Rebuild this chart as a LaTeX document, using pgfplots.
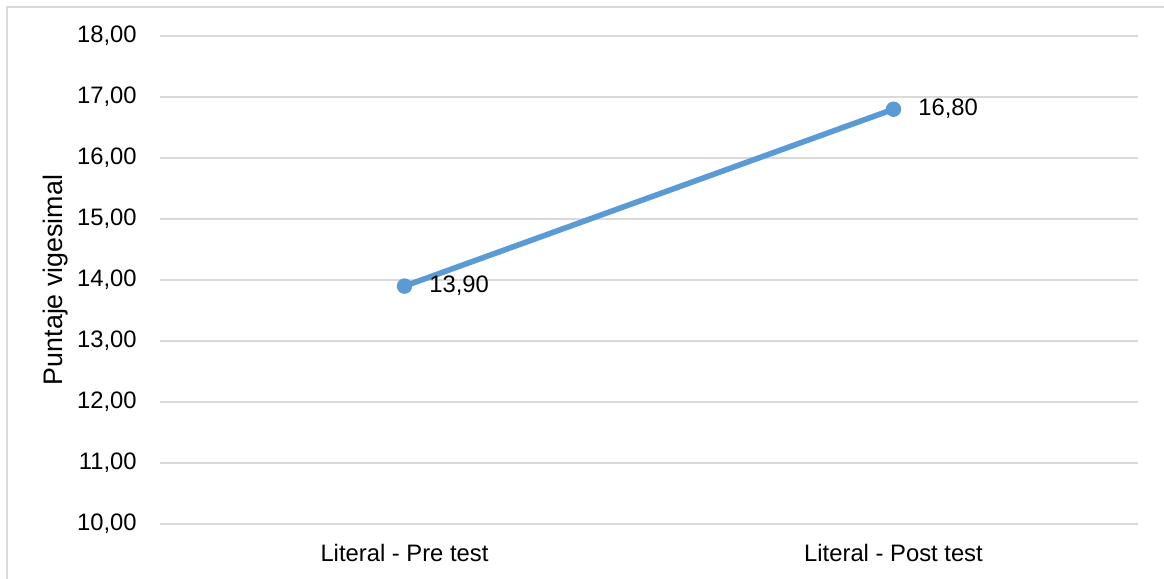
\documentclass[border=0pt]{standalone}
\usepackage{pgfplots}
\pgfplotsset{compat=1.18}
\usepackage{fontspec}
\setmainfont{Liberation Sans}
\definecolor{lineblue}{HTML}{5B9BD5}
\definecolor{gridgray}{HTML}{D9D9D9}
\begin{document}
\begin{tikzpicture}
\useasboundingbox (0,0) rectangle (582pt,289.5pt);
\draw[gridgray, line width=0.75pt] (3.5pt,0) -- (3.5pt,286pt) -- (582pt,286pt);
\begin{axis}[
  at={(80pt,27.5pt)}, anchor=south west,
  scale only axis, width=489pt, height=244pt,
  xmin=-0.5, xmax=1.5, ymin=10, ymax=18,
  xtick={0,1}, xticklabels={Literal - Pre test, Literal - Post test},
  ytick={10,11,...,18},
  axis line style={draw=none},
  major tick length=0pt,
  ymajorgrids, grid style={gridgray, line width=0.75pt},
  /pgf/number format/.cd, fixed, fixed zerofill, precision=2, use comma, assume math mode=true,
  /pgfplots/.cd,
  tick label style={font=\fontsize{11.9}{14}\selectfont},
  yticklabel style={anchor=east, inner sep=0pt, xshift=-11.5pt},
  xticklabel style={anchor=base, inner sep=0pt, yshift=-18.75pt},
  ylabel={Puntaje vigesimal},
  ylabel style={at={(axis description cs:-0.0992,0.5)}, anchor=base, rotate=0, inner sep=0pt, font=\fontsize{13.4}{16}\selectfont},
  clip=false,
]
\addplot[lineblue, line width=2.8pt, mark=*, mark size=3.6pt, mark options={fill=lineblue, draw=lineblue, line width=0.5pt},
  nodes near coords,
  every node near coord/.append style={anchor=west, inner sep=0pt, xshift=12.2pt, text=black, font=\fontsize{11.9}{14}\selectfont}]
  coordinates {(0,13.9) (1,16.8)};
\end{axis}
\end{tikzpicture}
\end{document}
